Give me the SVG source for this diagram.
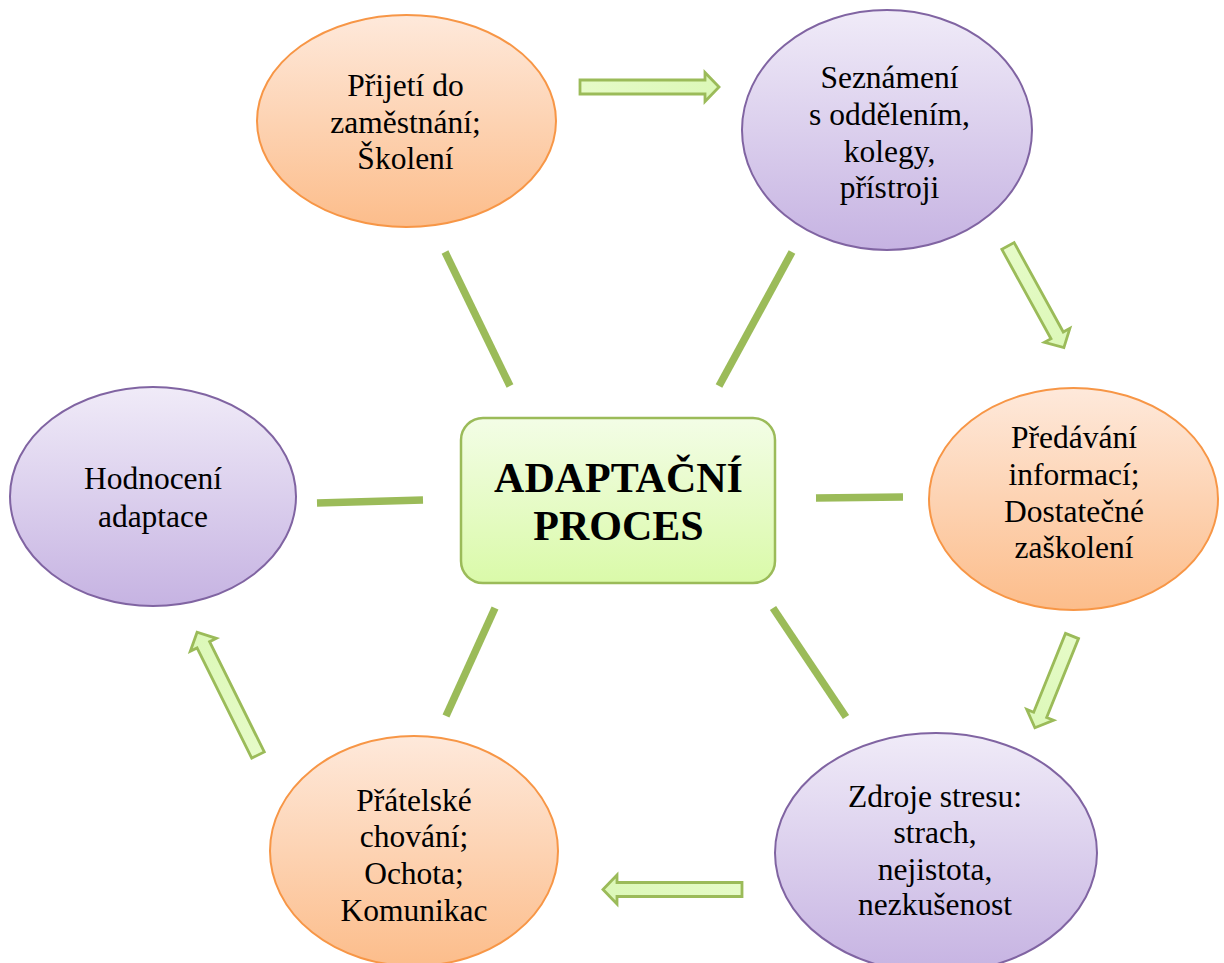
<svg xmlns="http://www.w3.org/2000/svg" width="1224" height="963" viewBox="0 0 1224 963">
<defs>
<linearGradient id="gOr" x1="0" y1="0" x2="0" y2="1">
<stop offset="0" stop-color="#fee9db"/>
<stop offset="1" stop-color="#fcbd8b"/>
</linearGradient>
<linearGradient id="gPu" x1="0" y1="0" x2="0" y2="1">
<stop offset="0" stop-color="#f0ebf8"/>
<stop offset="1" stop-color="#c6b3e2"/>
</linearGradient>
<linearGradient id="gGr" x1="0" y1="0" x2="0" y2="1">
<stop offset="0" stop-color="#f3fde6"/>
<stop offset="1" stop-color="#dafaa9"/>
</linearGradient>
<linearGradient id="gAr" x1="0" y1="0" x2="1" y2="0">
<stop offset="0" stop-color="#e6fbc8"/>
<stop offset="1" stop-color="#dcf8b8"/>
</linearGradient>
</defs>
<style>
.or{fill:url(#gOr);stroke:#f79646;stroke-width:2}
.pu{fill:url(#gPu);stroke:#8064a2;stroke-width:2}
.ctr{fill:url(#gGr);stroke:#9bbb59;stroke-width:2.5}
.t{font-family:"Liberation Serif","Times New Roman",serif;font-size:31.5px;fill:#000;text-anchor:middle}
.tb{font-family:"Liberation Serif","Times New Roman",serif;font-size:42px;font-weight:bold;fill:#000;text-anchor:middle}
.ln{stroke:#9bbb59;stroke-width:7.5;fill:none}
.ar{fill:url(#gAr);stroke:#9bbb59;stroke-width:2.8;stroke-linejoin:miter}
</style>
<rect width="1224" height="963" fill="#ffffff"/>

<g id="connectors">
<line class="ln" x1="445" y1="252" x2="510" y2="386"/>
<line class="ln" x1="792" y1="252" x2="719" y2="386"/>
<line class="ln" x1="816" y1="498" x2="903" y2="497"/>
<line class="ln" x1="317" y1="503" x2="423" y2="500"/>
<line class="ln" x1="495" y1="608" x2="446" y2="716"/>
<line class="ln" x1="773" y1="608" x2="846" y2="717"/>
<polygon class="ar" transform="translate(580,87) rotate(0)" points="0,-7 125,-7 125,-14.5 139,0 125,14.5 125,7 0,7"/>
<polygon class="ar" transform="translate(1008,246) rotate(61.2)" points="0,-7 102,-7 102,-14.5 116,0 102,14.5 102,7 0,7"/>
<polygon class="ar" transform="translate(1072,636) rotate(112)" points="0,-7 85,-7 85,-14.5 99,0 85,14.5 85,7 0,7"/>
<polygon class="ar" transform="translate(742,889.5) rotate(180)" points="0,-7 125,-7 125,-14.5 139,0 125,14.5 125,7 0,7"/>
<polygon class="ar" transform="translate(258,755) rotate(-116.4)" points="0,-7 123,-7 123,-14.5 137,0 123,14.5 123,7 0,7"/>
</g>

<g id="center">
<rect class="ctr" x="461" y="418" width="314" height="165" rx="22" ry="22"/>
<text class="tb" x="618.5" y="492">ADAPTAČNÍ</text>
<text class="tb" x="618.5" y="540">PROCES</text>
</g>

<g id="n1">
<ellipse class="or" cx="406.5" cy="121" rx="149.5" ry="106"/>
<text class="t" x="405.5" y="96">Přijetí do</text>
<text class="t" x="405.5" y="133">zaměstnání;</text>
<text class="t" x="405.5" y="169">Školení</text>
</g>

<g id="n2">
<ellipse class="pu" cx="887" cy="130" rx="145" ry="120"/>
<text class="t" x="889.5" y="88">Seznámení</text>
<text class="t" x="889.5" y="125">s oddělením,</text>
<text class="t" x="889.5" y="162">kolegy,</text>
<text class="t" x="889.5" y="198">přístroji</text>
</g>

<g id="n3">
<ellipse class="or" cx="1073.5" cy="499" rx="144.5" ry="111"/>
<text class="t" x="1074" y="448">Předávání</text>
<text class="t" x="1074" y="485">informací;</text>
<text class="t" x="1074" y="522">Dostatečné</text>
<text class="t" x="1074" y="558">zaškolení</text>
</g>

<g id="n4">
<ellipse class="pu" cx="936" cy="853" rx="161" ry="120"/>
<text class="t" x="935" y="807">Zdroje stresu:</text>
<text class="t" x="935" y="843">strach,</text>
<text class="t" x="935" y="880">nejistota,</text>
<text class="t" x="935" y="915">nezkušenost</text>
</g>

<g id="n5">
<ellipse class="or" cx="414" cy="851" rx="144" ry="115"/>
<text class="t" x="414" y="811">Přátelské</text>
<text class="t" x="414" y="847">chování;</text>
<text class="t" x="414" y="884">Ochota;</text>
<text class="t" x="414" y="921">Komunikac</text>
</g>

<g id="n6">
<ellipse class="pu" cx="153" cy="496.5" rx="143" ry="109.5"/>
<text class="t" x="153" y="489">Hodnocení</text>
<text class="t" x="153" y="527">adaptace</text>
</g>
</svg>
